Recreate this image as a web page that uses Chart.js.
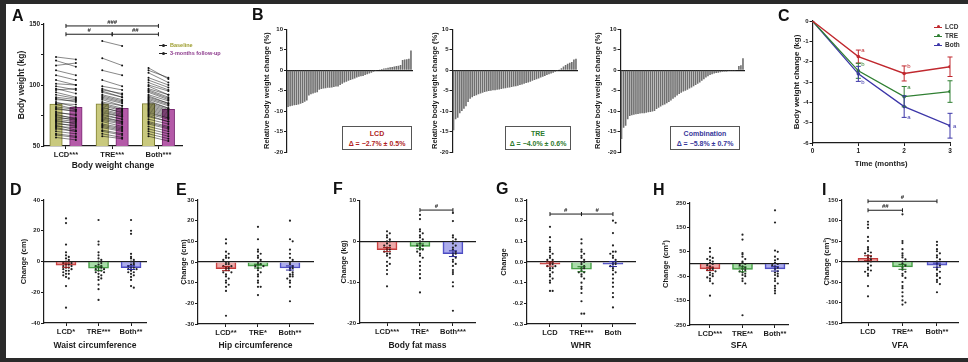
<!DOCTYPE html>
<html>
<head>
<meta charset="utf-8">
<script src="https://cdn.jsdelivr.net/npm/chart.js@4.4.1/dist/chart.umd.min.js"></script>
<style>
html, body { margin: 0; padding: 0; }
body { width: 968px; height: 362px; background: #2a2a2a; position: relative; overflow: hidden; font-family: "Liberation Sans", Arial, sans-serif; }
#sheet { position: absolute; left: 6px; top: 4px; width: 962px; height: 354px; background: #fff; }
canvas { position: absolute; }
.lbl { position: absolute; z-index: 2; font-weight: bold; font-size: 16px; line-height: 16px; color: #111; }
.txt { position: absolute; z-index: 2; font-weight: bold; white-space: nowrap; line-height: 8px; }
.mk { display: inline-block; width: 8px; height: 1px; vertical-align: middle; margin-right: 3px; position: relative; }
.mk i { position: absolute; left: 2.5px; top: -1.5px; width: 3px; height: 3px; border-radius: 50%; }
.box { position: absolute; z-index: 2; border: 1px solid #555; background: #fff; text-align: center; font-weight: bold; font-size: 7px; line-height: 9.5px; padding-top: 2px; box-sizing: border-box; }
</style>
</head>
<body>
<div id="sheet"></div>

<div class="lbl" style="left:12px;top:8px">A</div>
<div class="lbl" style="left:252px;top:7px">B</div>
<div class="lbl" style="left:778px;top:8px">C</div>
<div class="lbl" style="left:10px;top:182px">D</div>
<div class="lbl" style="left:176px;top:182px">E</div>
<div class="lbl" style="left:333px;top:181px">F</div>
<div class="lbl" style="left:496px;top:181px">G</div>
<div class="lbl" style="left:653px;top:182px">H</div>
<div class="lbl" style="left:822px;top:182px">I</div>

<div class="txt" style="left:159px;top:41px;font-size:5.5px;color:#9c9c2c"><span class="mk" style="background:#222"><i style="background:#222"></i></span>Baseline</div>
<div class="txt" style="left:159px;top:49px;font-size:5.5px;color:#8c3a8c"><span class="mk" style="background:#222"><i style="background:#222"></i></span>3-months follow-up</div>

<div class="box" style="left:342px;top:126px;width:70px;height:24px;color:#b01e24">LCD<br>Δ = −2.7% ± 0.5%</div>
<div class="box" style="left:505px;top:126px;width:66px;height:24px;color:#2d7a2d">TRE<br>Δ = −4.0% ± 0.6%</div>
<div class="box" style="left:670px;top:126px;width:70px;height:24px;color:#38389a">Combination<br>Δ = −5.8% ± 0.7%</div>

<div class="txt" style="left:934px;top:23px;font-size:6.5px;color:#333"><span class="mk" style="background:#c0282e"><i style="background:#c0282e"></i></span>LCD</div>
<div class="txt" style="left:934px;top:32px;font-size:6.5px;color:#333"><span class="mk" style="background:#2f7f32"><i style="background:#2f7f32"></i></span>TRE</div>
<div class="txt" style="left:934px;top:41px;font-size:6.5px;color:#333"><span class="mk" style="background:#3c36a8"><i style="background:#3c36a8"></i></span>Both</div>

<script>
// ---------- data ----------
const groups = ['LCD', 'TRE', 'Both'];

// A: body weight (kg), baseline vs 3-month follow-up per participant
const weightCats = ['LCD***', 'TRE***', 'Both***'];
const weightBaseLCD = [123, 120, 116, 112, 108, 104, 101, 99, 97, 96, 94, 92, 90, 89, 88, 86, 85, 84, 82, 81, 80, 78, 77, 76, 75, 74, 73, 72, 71, 70, 69, 68, 67, 66, 65, 64, 62, 60, 59, 57];
const weightFollowLCD = [121, 115, 118, 108, 104, 100, 100, 96, 93, 97, 90, 89, 88, 86, 87, 82, 84, 80, 80, 78, 79, 75, 76, 72, 73, 71, 72, 70, 68, 69, 66, 67, 63, 65, 62, 62, 60, 58, 57, 55];
const weightBaseTRE = [136, 122, 112, 104, 99, 97, 96, 95, 94, 92, 91, 90, 89, 88, 86, 85, 84, 83, 82, 81, 80, 79, 78, 77, 76, 75, 74, 73, 72, 71, 70, 68, 67, 66, 65, 63, 62, 60, 58];
const weightFollowTRE = [132, 116, 108, 99, 96, 92, 93, 90, 90, 88, 87, 86, 85, 83, 83, 81, 80, 79, 77, 78, 76, 75, 74, 74, 72, 72, 70, 70, 69, 68, 66, 65, 64, 63, 62, 60, 59, 57, 56];
const weightBaseBoth = [114, 112, 110, 106, 104, 102, 100, 99, 97, 96, 95, 94, 92, 91, 90, 89, 88, 87, 86, 85, 84, 83, 82, 81, 80, 79, 78, 77, 76, 75, 74, 72, 70, 69, 68, 66, 64, 62, 60, 58];
const weightFollowBoth = [105, 106, 102, 100, 98, 96, 95, 92, 92, 90, 89, 88, 87, 85, 85, 84, 83, 81, 81, 80, 79, 78, 77, 76, 75, 74, 73, 73, 72, 70, 70, 68, 66, 65, 64, 62, 60, 58, 56, 54];
const weightMeanBase = [84.4, 84.6, 84.7];
const weightMeanFollow = [81.7, 80.9, 80.0];

// B: relative body weight change (%), sorted per participant
const relLCD = [-9.0, -8.8, -8.7, -8.6, -8.5, -8.4, -8.2, -8.0, -7.7, -7.4, -6.2, -5.9, -5.7, -5.5, -5.4, -4.8, -4.6, -4.5, -4.4, -4.3, -4.3, -4.2, -4.1, -4.0, -4.0, -3.6, -3.3, -3.0, -2.8, -2.6, -2.4, -2.2, -2.0, -1.8, -1.6, -1.5, -1.4, -1.2, -1.0, -0.8, -0.6, -0.4, -0.1, 0.1, 0.2, 0.3, 0.4, 0.5, 0.6, 0.7, 0.8, 0.9, 1.0, 1.1, 1.3, 2.5, 2.6, 2.7, 2.8, 4.8];
const relTRE = [-14.7, -12.0, -11.6, -10.5, -10.0, -9.4, -8.8, -7.8, -7.0, -6.6, -6.3, -6.1, -5.9, -5.7, -5.5, -5.3, -5.2, -5.1, -5.0, -4.9, -4.9, -4.8, -4.7, -4.6, -4.5, -4.4, -4.3, -4.2, -4.1, -4.0, -3.9, -3.8, -3.6, -3.5, -3.3, -3.1, -3.0, -2.8, -2.6, -2.4, -2.2, -2.0, -1.8, -1.6, -1.4, -1.2, -1.0, -0.8, -0.6, -0.4, -0.2, 0.2, 0.5, 0.9, 1.3, 1.6, 1.8, 2.0, 2.6, 2.8];
const relBoth = [-16.8, -14.1, -13.6, -12.0, -11.2, -11.0, -10.9, -10.8, -10.7, -10.6, -10.5, -10.5, -10.4, -10.3, -10.2, -10.1, -10.0, -9.5, -9.2, -8.9, -8.6, -8.4, -8.1, -7.8, -7.4, -7.0, -6.6, -6.2, -5.8, -5.5, -5.2, -5.0, -4.8, -4.5, -4.2, -3.9, -3.6, -3.3, -3.0, -2.6, -2.2, -1.8, -1.5, -1.2, -1.0, -0.8, -0.7, -0.6, -0.5, -0.4, -0.3, -0.3, -0.2, -0.2, -0.1, -0.1, 0.0, 1.0, 1.2, 2.9];

// C: body weight change (kg) over time, mean and SEM
const months = [0, 1, 2, 3];
const timeLCD = [0, -1.75, -2.58, -2.25];
const timeTRE = [0, -2.45, -3.72, -3.47];
const timeBoth = [0, -2.6, -4.21, -5.15];
const semLCD = [0, 0.32, 0.37, 0.48];
const semTRE = [0, 0.37, 0.5, 0.53];
const semBoth = [0, 0.37, 0.53, 0.61];
const timeLetters = [['a', 'b', 'b'], ['b', 'a', 'a'], ['', '', 'a']]; // month 1..3, per group

// D: waist circumference (cm)
const waistCats = ['LCD*', 'TRE***', 'Both**'];
const waistLCD = [28, 25, 11, 6, 4, 3, 2, 1, 0, 0, -1, -1, -2, -2, -3, -3, -4, -4, -5, -5, -6, -6, -7, -8, -8, -9, -10, -11, -16, -30];
const waistTRE = [27, 13, 11, 6, 4, 2, 1, 0, -1, -2, -3, -3, -4, -4, -5, -5, -6, -6, -7, -7, -8, -9, -10, -11, -12, -15, -18, -25];
const waistBoth = [27, 20, 18, 5, 3, 2, 1, 0, -1, -2, -2, -3, -4, -4, -5, -5, -6, -7, -7, -8, -9, -10, -12, -16, -17];
const waistMean = [-2.4, -4.4, -4.0];
const waistSem = [1.4, 1.3, 1.2];

// E: hip circumference (cm)
const hipCats = ['LCD**', 'TRE*', 'Both**'];
const hipLCD = [11, 9, 5, 4, 3, 2, 2, 1, 0, 0, -1, -1, -2, -2, -3, -3, -4, -4, -5, -5, -6, -7, -8, -9, -10, -11, -12, -14, -26];
const hipTRE = [17, 11, 6, 5, 4, 3, 2, 1, 0, -1, -1, -2, -2, -3, -4, -5, -6, -7, -9, -10, -12, -12, -16];
const hipBoth = [20, 11, 10, 6, 4, 2, 1, 0, -1, -2, -3, -3, -4, -5, -6, -6, -7, -7, -8, -9, -10, -12, -19];
const hipMean = [-3.2, -2.0, -2.9];
const hipSem = [1.0, 0.9, 1.0];

// F: body fat mass (kg)
const fatCats = ['LCD***', 'TRE*', 'Both***'];
const fatLCD = [2.5, 2, 1.5, 1, 0.5, 0, 0, -0.5, -1, -1, -1.5, -2, -2, -2.5, -3, -3, -3.5, -4, -5, -5.5, -6, -7, -8, -11];
const fatTRE = [6.5, 5.5, 3, 2.5, 2, 1.5, 1, 0.5, 0, -0.5, -1, -1, -1.5, -2, -2, -2.5, -3, -3.5, -4, -5, -6, -7, -8, -9, -12.5];
const fatBoth = [7, 5, 1.5, 1, 0.5, 0, -0.5, -1, -1.5, -2, -2.5, -3, -3, -3.5, -4, -4.5, -5, -5.5, -6, -7, -7.5, -8, -10, -11, -17];
const fatMean = [-2.0, -1.2, -3.0];
const fatSem = [0.5, 0.6, 0.7];

// G: waist-to-hip ratio
const whrCats = ['LCD', 'TRE***', 'Both'];
const whrLCD = [0.17, 0.12, 0.10, 0.07, 0.06, 0.05, 0.04, 0.03, 0.02, 0.01, 0.01, 0, 0, -0.01, -0.01, -0.02, -0.02, -0.03, -0.03, -0.04, -0.05, -0.06, -0.07, -0.08, -0.09, -0.10, -0.14, -0.14];
const whrTRE = [0.11, 0.09, 0.06, 0.05, 0.04, 0.03, 0.02, 0.01, 0, 0, -0.01, -0.02, -0.03, -0.03, -0.04, -0.05, -0.05, -0.06, -0.07, -0.08, -0.10, -0.12, -0.13, -0.15, -0.19, -0.25, -0.25];
const whrBoth = [0.20, 0.19, 0.14, 0.08, 0.05, 0.05, 0.04, 0.03, 0.02, 0.01, 0, 0, -0.01, -0.01, -0.02, -0.03, -0.04, -0.05, -0.06, -0.08, -0.10, -0.12, -0.15, -0.17, -0.22];
const whrMean = [-0.01, -0.035, -0.01];
const whrSem = [0.01, 0.012, 0.012];

// H: subcutaneous fat area (cm2)
const sfaCats = ['LCD***', 'TRE**', 'Both**'];
const sfaLCD = [65, 50, 30, 25, 20, 15, 10, 5, 0, -5, -10, -15, -20, -20, -25, -30, -35, -40, -45, -50, -55, -60, -70, -80, -130];
const sfaTRE = [120, 100, 45, 40, 30, 20, 10, 5, 0, -5, -10, -15, -20, -25, -30, -35, -40, -45, -50, -60, -70, -80, -210];
const sfaBoth = [220, 170, 55, 50, 30, 20, 15, 5, 0, -5, -10, -15, -20, -30, -35, -40, -45, -50, -60, -70, -80, -90, -100, -110, -120];
const sfaMean = [-20, -22, -20];
const sfaSem = [7, 10, 9];

// I: visceral fat area (cm2)
const vfaCats = ['LCD', 'TRE**', 'Both**'];
const vfaLCD = [97, 90, 82, 60, 50, 35, 30, 25, 22, 20, 15, 12, 10, 5, 3, 0, -5, -10, -15, -20, -22, -25, -30, -35, -60, -85];
const vfaTRE = [115, 50, 45, 30, 20, 15, 10, 5, 0, -5, -10, -15, -20, -25, -30, -35, -40, -50, -60, -65, -75, -85, -95, -100, -105];
const vfaBoth = [48, 40, 30, 25, 20, 15, 10, 5, 0, -5, -10, -15, -20, -25, -30, -35, -40, -45, -50, -55, -75];
const vfaMean = [8, -13, -9];
const vfaSem = [6, 6, 5];

// ---------- drawing ----------
const FONT = '"Liberation Sans", Arial, sans-serif';
const INK = '#1c1c1c';
const fills = ['rgba(226,112,112,0.6)', 'rgba(112,198,112,0.6)', 'rgba(122,122,226,0.62)'];
const edges = ['#c43a3a', '#3c953c', '#4a4ac0'];
const errs = ['#9e1c1c', '#1f6e1f', '#2a2a98'];
const lineCols = ['#c0282e', '#2f7f32', '#3c36a8'];

// error bars, significance brackets and letters, all in data units
const extras = {
  id: 'extras',
  afterDatasetsDraw(chart, args, opts) {
    const ctx = chart.ctx, xs = chart.scales.x, ys = chart.scales.y;
    ctx.save();
    (opts.errorBars || []).forEach(e => {
      const px = xs.getPixelForValue(e.x);
      const y1 = ys.getPixelForValue(e.y - e.err), y2 = ys.getPixelForValue(e.y + e.err);
      ctx.strokeStyle = e.color;
      ctx.lineWidth = 1;
      ctx.beginPath();
      ctx.moveTo(px, y1); ctx.lineTo(px, y2);
      ctx.moveTo(px - e.cap, y1); ctx.lineTo(px + e.cap, y1);
      ctx.moveTo(px - e.cap, y2); ctx.lineTo(px + e.cap, y2);
      ctx.stroke();
    });
    (opts.brackets || []).forEach(b => {
      const x1 = xs.getPixelForValue(b.x1), x2 = xs.getPixelForValue(b.x2), y = ys.getPixelForValue(b.y);
      ctx.strokeStyle = INK;
      ctx.lineWidth = 1;
      ctx.beginPath();
      ctx.moveTo(x1, y); ctx.lineTo(x2, y);
      ctx.moveTo(x1, y - 2); ctx.lineTo(x1, y + 2);
      ctx.moveTo(x2, y - 2); ctx.lineTo(x2, y + 2);
      ctx.stroke();
      ctx.fillStyle = INK;
      ctx.font = 'bold 6px ' + FONT;
      ctx.textAlign = 'center';
      ctx.textBaseline = 'bottom';
      ctx.fillText(b.text, (x1 + x2) / 2, y - 1);
    });
    (opts.letters || []).forEach(l => {
      ctx.fillStyle = l.color;
      ctx.font = '6px ' + FONT;
      ctx.textAlign = 'left';
      ctx.textBaseline = 'middle';
      ctx.fillText(l.text, xs.getPixelForValue(l.x) + l.dx, ys.getPixelForValue(l.y) + l.dy);
    });
    ctx.restore();
  }
};
Chart.register(extras);

function place(box) {
  const c = document.createElement('canvas');
  c.width = box.w; c.height = box.h;
  c.style.left = box.x + 'px'; c.style.top = box.y + 'px';
  c.style.width = box.w + 'px'; c.style.height = box.h + 'px';
  document.body.appendChild(c);
  return c;
}

function frame(box, area, hasBottom) {
  return {
    responsive: false,
    animation: false,
    events: [],
    layout: { padding: { left: 0, top: area.t - box.y, right: box.x + box.w - area.r, bottom: hasBottom ? 0 : box.y + box.h - area.b } },
    plugins: { legend: { display: false }, tooltip: { enabled: false } }
  };
}

function yScale(box, area, o) {
  return {
    type: 'linear', min: o.min, max: o.max,
    afterBuildTicks: s => { s.ticks = o.ticks.map(v => ({ value: v })); },
    afterFit: s => { s.width = area.l - box.x; },
    ticks: { font: { family: FONT, size: o.tickSize || 6, weight: 'bold' }, color: INK, padding: 1, callback: o.fmt || (v => String(v)) },
    grid: { drawOnChartArea: false, color: INK, tickLength: 3, lineWidth: 1 },
    border: { color: INK, width: 1.2 },
    title: { display: true, text: o.title, color: INK, padding: 0, font: { family: FONT, size: o.titleSize || 7.5, weight: 'bold', lineHeight: 1.2 } }
  };
}

function xScale(box, area, o) {
  return {
    type: 'linear', min: o.min, max: o.max, offset: false,
    afterBuildTicks: s => { s.ticks = o.ticks.map(v => ({ value: v })); },
    afterFit: s => { s.height = box.y + box.h - area.b; },
    ticks: { font: { family: FONT, size: o.tickSize || 7.5, weight: 'bold' }, color: INK, padding: o.pad == null ? 1 : o.pad, maxRotation: 0, autoSkip: false, callback: (v, i) => o.labels[i] },
    grid: { offset: false, drawOnChartArea: false, color: INK, tickLength: 3, lineWidth: 1 },
    border: { color: INK, width: 1.2 },
    title: { display: true, text: o.title, color: INK, padding: 0, font: { family: FONT, size: o.titleSize || 8.5, weight: 'bold', lineHeight: 1.2 } }
  };
}

function zeroAxis(min, max, type) {
  return {
    axis: 'x', type: type || 'linear', min: min, max: max, position: { y: 0 }, offset: type === 'category',
    afterFit: s => { s.height = 0; },
    ticks: { display: false },
    grid: { drawOnChartArea: false, drawTicks: false },
    border: { color: INK, width: 1.3 }
  };
}

function swarm(vals, cat, bin) {
  const used = {};
  return vals.map(v => {
    const k = Math.round(v / bin);
    const n = used[k] = (used[k] || 0) + 1;
    const off = n === 1 ? 0 : (n % 2 === 0 ? 1 : -1) * Math.floor(n / 2) * 0.085;
    return { x: cat + Math.max(-0.3, Math.min(0.3, off)), y: v };
  });
}

// ---- A ----
function pairLines(base, follow, cat) {
  const pts = [];
  base.forEach((b, i) => {
    pts.push({ x: cat - 0.215, y: b }, { x: cat + 0.215, y: follow[i] }, { x: cat, y: null });
  });
  return pts;
}
(function () {
  const box = { x: 17, y: 14, w: 180, h: 157 }, area = { l: 44, t: 24, r: 182, b: 146 };
  const barData = [], barFill = [], barEdge = [];
  groups.forEach((g, i) => {
    barData.push({ x: i + 1 - 0.215, y: weightMeanBase[i] }, { x: i + 1 + 0.215, y: weightMeanFollow[i] });
    barFill.push('#c9c97e', '#b45aa8');
    barEdge.push('#7e7e32', '#7a2a72');
  });
  const lines = [[weightBaseLCD, weightFollowLCD], [weightBaseTRE, weightFollowTRE], [weightBaseBoth, weightFollowBoth]];
  const datasets = [{ type: 'bar', data: barData, backgroundColor: barFill, borderColor: barEdge, borderWidth: 1, borderSkipped: false, barThickness: 12.5, order: 3 }];
  lines.forEach((p, i) => datasets.push({
    type: 'line', data: pairLines(p[0], p[1], i + 1), spanGaps: false,
    borderColor: 'rgba(20,20,20,0.85)', borderWidth: 0.6, pointRadius: 1, pointBackgroundColor: '#111', pointBorderWidth: 0, order: 1
  }));
  const opts = frame(box, area, true);
  opts.scales = {
    x: xScale(box, area, { min: 0.525, max: 3.51, ticks: [1, 2, 3], labels: weightCats, title: 'Body weight change', pad: 1.5 }),
    y: yScale(box, area, { min: 50, max: 150, ticks: [50, 75, 100, 125, 150], fmt: v => (v % 50 === 0 ? String(v) : ''), title: 'Body weight (kg)', titleSize: 8.5, tickSize: 6.5 })
  };
  opts.plugins.extras = { brackets: [
    { x1: 1, x2: 3, y: 148.4, text: '###' },
    { x1: 1, x2: 2, y: 141.6, text: '#' },
    { x1: 2, x2: 3, y: 141.6, text: '##' }
  ] };
  new Chart(place(box), { type: 'bar', data: { datasets }, options: opts });
})();

// ---- B ----
function waterfall(box, area, vals) {
  const opts = frame(box, area, false);
  opts.scales = {
    x: zeroAxis(undefined, undefined, 'category'),
    y: yScale(box, area, { min: -20, max: 10, ticks: [-20, -15, -10, -5, 0, 5, 10], title: 'Relative body weight change (%)' })
  };
  new Chart(place(box), {
    type: 'bar',
    data: { labels: vals.map((v, i) => i + 1), datasets: [{ data: vals, backgroundColor: '#6f6f6f', borderWidth: 0, barPercentage: 0.78, categoryPercentage: 1 }] },
    options: opts
  });
}
waterfall({ x: 262, y: 20, w: 158, h: 140 }, { l: 287, t: 29.3, r: 412, b: 152 }, relLCD);
waterfall({ x: 430, y: 20, w: 155, h: 140 }, { l: 452.5, t: 29.3, r: 577, b: 152 }, relTRE);
waterfall({ x: 593, y: 20, w: 159, h: 140 }, { l: 620.5, t: 29.3, r: 744, b: 152 }, relBoth);

// ---- C ----
(function () {
  const box = { x: 792, y: 12, w: 172, h: 157 }, area = { l: 812.5, t: 21, r: 950, b: 143 };
  const series = [timeLCD, timeTRE, timeBoth], sems = [semLCD, semTRE, semBoth];
  const errorBars = [], letters = [];
  const letterOff = [[-6.5, -7, 0], [-6, -9, 0], [8, 11, 1]];
  series.forEach((s, k) => {
    months.forEach((m, i) => {
      if (sems[k][i]) errorBars.push({ x: m, y: s[i], err: sems[k][i], color: lineCols[k], cap: 2.5 });
    });
    timeLetters.forEach((row, j) => {
      if (row[k]) letters.push({ x: months[j + 1], y: s[j + 1], text: row[k], color: lineCols[k], dx: 3, dy: letterOff[k][j] });
    });
  });
  const opts = frame(box, area, true);
  opts.scales = {
    x: xScale(box, area, { min: 0, max: 3, ticks: months, labels: months.map(String), title: 'Time (months)', tickSize: 6.5, titleSize: 7.7, pad: 1 }),
    y: yScale(box, area, { min: -6, max: 0, ticks: [-6, -5, -4, -3, -2, -1, 0], title: 'Body weight change (kg)', titleSize: 8 })
  };
  opts.plugins.extras = { errorBars, letters };
  new Chart(place(box), {
    type: 'line',
    data: { datasets: series.map((s, k) => ({
      data: months.map((m, i) => ({ x: m, y: s[i] })),
      borderColor: lineCols[k], backgroundColor: lineCols[k], borderWidth: 1.3, pointRadius: 1.8, pointBorderWidth: 0
    })) },
    options: opts
  });
})();

// ---- D-I ----
function changePanel(box, area, p) {
  const datasets = [{
    type: 'bar', data: p.mean.map((m, i) => ({ x: i + 1, y: m })),
    backgroundColor: fills, borderColor: edges, borderWidth: 1, barThickness: 20, order: 3
  }];
  p.vals.forEach((v, i) => datasets.push({
    type: 'line', data: swarm(v, i + 1, (p.max - p.min) / 40), showLine: false,
    pointRadius: 1.1, pointBackgroundColor: '#222', pointBorderWidth: 0, order: 2
  }));
  const opts = frame(box, area, true);
  opts.scales = {
    x: xScale(box, area, { min: p.xmin, max: p.xmax, ticks: [1, 2, 3], labels: p.cats, title: p.xtitle, pad: 1 }),
    y: yScale(box, area, { min: p.min, max: p.max, ticks: p.ticks, fmt: p.fmt, title: p.ytitle }),
    xz: zeroAxis(p.xmin, p.xmax)
  };
  opts.plugins.extras = {
    errorBars: p.mean.map((m, i) => ({ x: i + 1, y: m, err: p.sem[i], color: errs[i], cap: 4 })),
    brackets: p.brackets || []
  };
  new Chart(place(box), { type: 'bar', data: { datasets }, options: opts });
}

changePanel({ x: 19, y: 192, w: 140, h: 159 }, { l: 44, t: 200, r: 146, b: 323 }, {
  vals: [waistLCD, waistTRE, waistBoth], mean: waistMean, sem: waistSem, cats: waistCats,
  min: -40, max: 40, ticks: [-40, -20, 0, 20, 40], xmin: 0.323, xmax: 3.46,
  ytitle: 'Change (cm)', xtitle: 'Waist circumference'
});
changePanel({ x: 179, y: 192, w: 148, h: 159 }, { l: 198, t: 200, r: 313, b: 324 }, {
  vals: [hipLCD, hipTRE, hipBoth], mean: hipMean, sem: hipSem, cats: hipCats,
  min: -30, max: 30, ticks: [-30, -20, -10, 0, 10, 20, 30], xmin: 0.125, xmax: 3.72,
  ytitle: 'Change (cm)', xtitle: 'Hip circumference'
});
changePanel({ x: 339, y: 192, w: 150, h: 159 }, { l: 360, t: 200.7, r: 475, b: 323 }, {
  vals: [fatLCD, fatTRE, fatBoth], mean: fatMean, sem: fatSem, cats: fatCats,
  min: -20, max: 10, ticks: [-20, -10, 0, 10], xmin: 0.18, xmax: 3.67,
  ytitle: 'Change (kg)', xtitle: 'Body fat mass',
  brackets: [{ x1: 2, x2: 3, y: 7.7, text: '#' }]
});
changePanel({ x: 499, y: 192, w: 150, h: 159 }, { l: 527, t: 200, r: 635, b: 324 }, {
  vals: [whrLCD, whrTRE, whrBoth], mean: whrMean, sem: whrSem, cats: whrCats,
  min: -0.3, max: 0.3, ticks: [-0.3, -0.2, -0.1, 0, 0.1, 0.2, 0.3], fmt: v => v.toFixed(1), xmin: 0.27, xmax: 3.7,
  ytitle: 'Change', xtitle: 'WHR',
  brackets: [{ x1: 1, x2: 2, y: 0.232, text: '#' }, { x1: 2, x2: 3, y: 0.232, text: '#' }]
});
changePanel({ x: 661, y: 192, w: 140, h: 159 }, { l: 690, t: 203, r: 788, b: 325 }, {
  vals: [sfaLCD, sfaTRE, sfaBoth], mean: sfaMean, sem: sfaSem, cats: sfaCats,
  min: -250, max: 250, ticks: [-250, -150, -50, 50, 150, 250], xmin: 0.385, xmax: 3.4,
  ytitle: 'Change (cm²)', xtitle: 'SFA'
});
changePanel({ x: 822, y: 192, w: 146, h: 159 }, { l: 842, t: 200, r: 958, b: 323 }, {
  vals: [vfaLCD, vfaTRE, vfaBoth], mean: vfaMean, sem: vfaSem, cats: vfaCats,
  min: -150, max: 150, ticks: [-150, -100, -50, 0, 50, 100, 150], xmin: 0.246, xmax: 3.61,
  ytitle: 'Change (cm²)', xtitle: 'VFA',
  brackets: [{ x1: 1, x2: 2, y: 125, text: '##' }, { x1: 1, x2: 3, y: 147, text: '#' }]
});
</script>
</body>
</html>
